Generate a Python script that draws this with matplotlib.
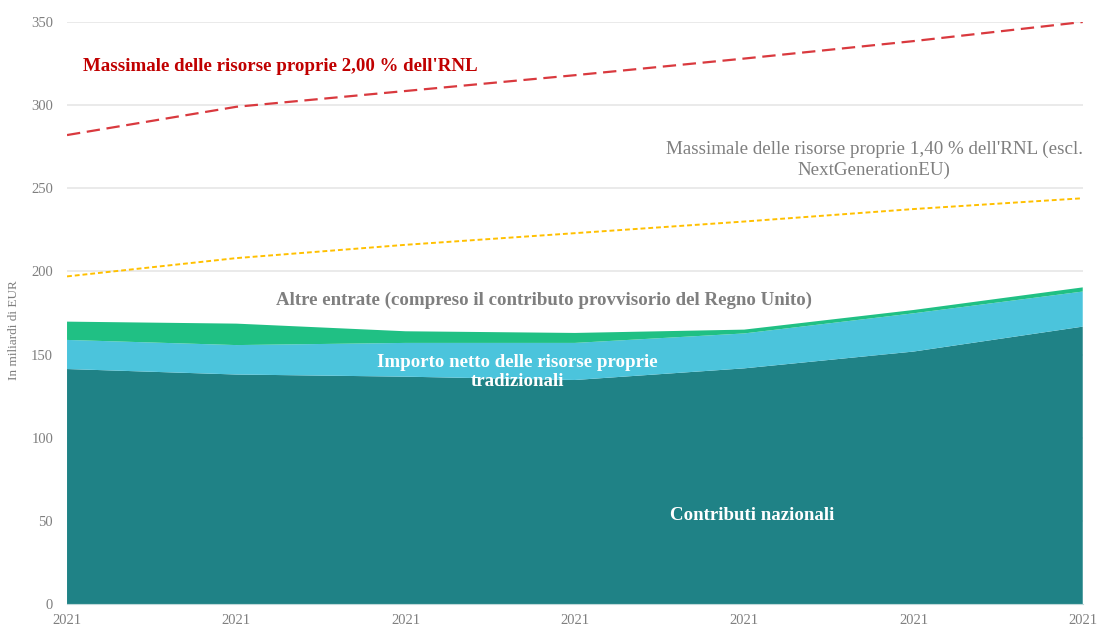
import matplotlib.pyplot as plt
import numpy as np

# values (billion EUR)
years = ["2021", "2021", "2021", "2021", "2021", "2021", "2021"]
contributi = [141.3, 138.0, 136.7, 134.7, 141.7, 151.8, 166.8]
importo = [17.5, 17.7, 20.3, 22.3, 21.0, 23.0, 21.1]
altre = [11.0, 12.9, 7.0, 6.0, 2.3, 2.0, 2.5]
massimale_200 = [282, 299, 308.5, 318, 328, 338.5, 350]
massimale_140 = [197, 208, 216, 223, 230, 237.5, 244]

plt.rcParams['font.family'] = ['Liberation Serif', 'DejaVu Serif']

x = np.arange(len(years))

fig = plt.figure(figsize=(10.97, 6.3), dpi=100)
ax = fig.add_axes([0.0611, 0.0413, 0.9259, 0.9238])

ax.stackplot(x, contributi, importo, altre,
             colors=["#1F8286", "#4BC4DC", "#20C084"], linewidth=0, zorder=2)
ax.plot(x, massimale_200, color="#D9393E", linestyle=(0, (6, 3)), linewidth=1.6, zorder=3)
ax.plot(x, massimale_140, color="#FFC000", linestyle=(0, (2.5, 1.5)), linewidth=1.4, zorder=3)

ax.set_xlim(0, 6)
ax.set_ylim(0, 350)
ax.set_yticks(np.arange(0, 351, 50))
ax.set_xticks(x)
ax.set_xticklabels(years)
ax.yaxis.grid(True, color="#E6E6E6", linewidth=1.2, zorder=0)
ax.set_axisbelow(True)
for s in ["top", "right", "left"]:
    ax.spines[s].set_visible(False)
ax.spines["bottom"].set_color("#BFD9DA")
ax.tick_params(axis="both", length=0, colors="#7F7F7F", labelsize=10.5)
ax.tick_params(axis="y", pad=10)
ax.tick_params(axis="x", pad=7)

ax.set_ylabel("In miliardi di EUR", color="#7F7F7F", fontsize=9.5)
ax.yaxis.set_label_coords(-0.046, 0.47)

ax.text(0.094, 323.5, "Massimale delle risorse proprie 2,00 % dell'RNL",
        color="#C00000", fontsize=13.6, fontweight="bold", ha="left", va="center")
ax.text(6.0, 267, "Massimale delle risorse proprie 1,40 % dell'RNL (escl.\nNextGenerationEU)",
        color="#7F7F7F", fontsize=13.7, ha="right", va="center", multialignment="center",
        linespacing=1.25)
ax.text(2.82, 182.8, "Altre entrate (compreso il contributo provvisorio del Regno Unito)",
        color="#7F7F7F", fontsize=13.6, fontweight="bold", ha="center", va="center", zorder=4)
ax.text(2.66, 139.5, "Importo netto delle risorse proprie\ntradizionali",
        color="white", fontsize=13.6, fontweight="bold", ha="center", va="center",
        linespacing=1.1, zorder=4)
ax.text(4.05, 53, "Contributi nazionali",
        color="white", fontsize=13.6, fontweight="bold", ha="center", va="center", zorder=4)

plt.savefig("out.png", dpi=100)
